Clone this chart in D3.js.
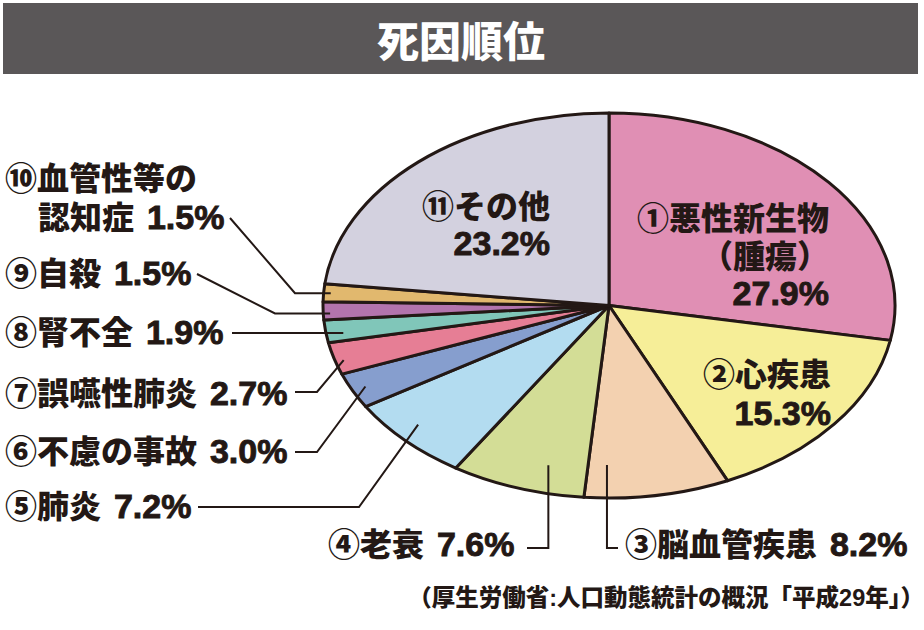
<!DOCTYPE html>
<html>
<head>
<meta charset="utf-8">
<script src="https://cdn.jsdelivr.net/npm/d3@7"></script>
<style>
  html, body { margin: 0; padding: 0; background: #ffffff; }
  svg { display: block; }
  text { font-family: "Liberation Sans", "Noto Sans CJK JP", sans-serif; font-weight: 900; }
  tspan.num { font-size: 34px; stroke: #231815; stroke-width: 0.9px; }
</style>
</head>
<body>
<svg id="chart" width="924" height="630"></svg>
<script>
// ---- data ----
const title = "死因順位";
const ranks = ["①","②","③","④","⑤","⑥","⑦","⑧","⑨","⑩","⑪"];
const categories = ["悪性新生物\n（腫瘍）","心疾患","脳血管疾患","老衰","肺炎","不慮の事故","誤嚥性肺炎","腎不全","自殺","血管性等の\n認知症","その他"];
const values = [27.9, 15.3, 8.2, 7.6, 7.2, 3.0, 2.7, 1.9, 1.5, 1.5, 23.2];
const colors = ["#E08FB4","#F6EE98","#F3D1B0","#D3DD96","#B3DCF0","#869ECE","#E67E95","#80C6B9","#B374AD","#E1B86E","#D3D1DF"];
const source = "（厚生労働省:人口動態統計の概況「平成29年」）";

// ---- layout ----
const cx = 609, cy = 305.5, rx = 286, ry = 192.5;
const ink = "#231815";
const fmt = d3.format(".1f");

const svg = d3.select("#chart");

// title bar
svg.append("rect").attr("x", 3).attr("y", 3).attr("width", 915).attr("height", 71).attr("fill", "#5A5758");
svg.append("text").attr("x", 461).attr("y", 57).attr("text-anchor", "middle")
  .attr("font-size", 42).attr("fill", "#ffffff").text(title);

// pie
const pie = d3.pie().sort(null).value(d => d)(values);
const arc = d3.arc().innerRadius(0).outerRadius(ry);
const g = svg.append("g").attr("transform", `translate(${cx},${cy}) scale(${rx / ry},1)`);
g.selectAll("path").data(pie).join("path")
  .attr("d", arc)
  .attr("fill", (d, i) => colors[i])
  .attr("stroke", ink)
  .attr("stroke-width", 3)
  .attr("stroke-linejoin", "round")
  .attr("vector-effect", "non-scaling-stroke");

function innerPoint(i, t, f) {
  const a = pie[i].startAngle + t * (pie[i].endAngle - pie[i].startAngle);
  return [cx + rx * f * Math.sin(a), cy - ry * f * Math.cos(a)];
}

function addText(x, y, anchor, parts) {
  const t = svg.append("text").attr("x", x).attr("y", y).attr("text-anchor", anchor)
    .attr("font-size", 32).attr("fill", ink);
  parts.forEach(p => {
    const s = t.append("tspan").text(p.s);
    if (p.num) s.attr("class", "num");
    if (p.dx) s.attr("dx", p.dx);
  });
  return t;
}

// labels inside slices (right-aligned, one text element per line)
const insideLabels = [
  { i: 0, x: 829, y: 230, dy: 37.5 },
  { i: 1, x: 831, y: 386, dy: 39 },
  { i: 10, x: 550, y: 218, dy: 37 }
];
insideLabels.forEach(L => {
  const nameLines = categories[L.i].split("\n");
  const lines = [ranks[L.i] + nameLines[0], ...nameLines.slice(1)];
  lines.forEach((s, k) => addText(L.x, L.y + k * L.dy, "end", [{ s }]));
  addText(L.x, L.y + lines.length * L.dy, "end", [{ s: fmt(values[L.i]) + "%", num: true }]);
});

// outside labels
const outsideLabels = [
  { i: 9, x: 5, y: 190, dy: 39, indent: 33 },
  { i: 8, x: 5, y: 285 },
  { i: 7, x: 5, y: 344 },
  { i: 6, x: 5, y: 405 },
  { i: 5, x: 5, y: 463 },
  { i: 4, x: 5, y: 518 },
  { i: 3, x: 328, y: 556 },
  { i: 2, x: 625, y: 556 }
];
outsideLabels.forEach(L => {
  const nameLines = categories[L.i].split("\n");
  const valueStr = fmt(values[L.i]) + "%";
  if (nameLines.length > 1) {
    addText(L.x, L.y, "start", [{ s: ranks[L.i] + nameLines[0] }]);
    addText(L.x + L.indent, L.y + L.dy, "start", [{ s: nameLines[1] + " " }, { s: valueStr, num: true, dx: 4 }]);
  } else {
    addText(L.x, L.y, "start", [{ s: ranks[L.i] + nameLines[0] + " " }, { s: valueStr, num: true, dx: 4 }]);
  }
});

// leader lines
const p10 = innerPoint(9, 0.5, 0.975);
const p9 = innerPoint(8, 0.35, 0.976);
const p8 = innerPoint(7, 0.35, 0.94);
const p7 = innerPoint(6, 0.4, 0.97);
const p6 = innerPoint(5, 0.5, 0.95);
const p5 = innerPoint(4, 0.57, 0.91);
const p4 = innerPoint(3, 0.34, 0.856);
const p3 = innerPoint(2, 0.846, 0.829);
const leaders = [
  [[230, 218], [295, p10[1]], p10],
  [[197, 274], [275, p9[1]], p9],
  [[232, p8[1]], p8],
  [[295, 392], [317, 392], p7],
  [[295, 452], [317, 452], p6],
  [[198, 507], [359, 507], p5],
  [[527, 548], [p4[0], 548], p4],
  [p3, [p3[0], 548], [618, 548]]
];
svg.append("g").selectAll("path").data(leaders).join("path")
  .attr("d", d => d3.line()(d))
  .attr("fill", "none")
  .attr("stroke", ink)
  .attr("stroke-width", 2);

// source
svg.append("text").attr("x", 924).attr("y", 606).attr("text-anchor", "end")
  .attr("font-size", 23.5).attr("fill", ink).text(source);
</script>
</body>
</html>
